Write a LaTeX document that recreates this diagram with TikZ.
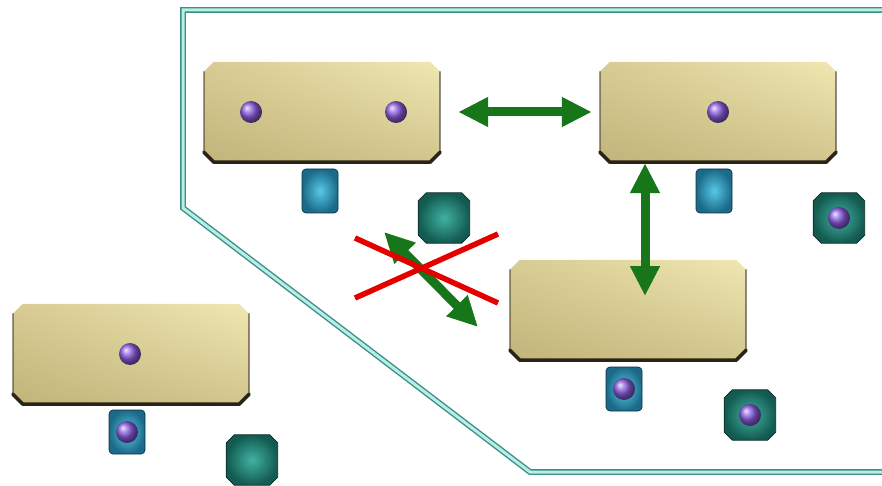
\documentclass[tikz,border=0pt]{standalone}
\usepackage{tikz}
\usetikzlibrary{arrows.meta, positioning, calc, fadings}

\definecolor{slableft}{HTML}{D8CC94}
\definecolor{slabmid}{HTML}{F5EDBC}
\definecolor{slabright}{HTML}{F0E7B2}
\definecolor{slabdark}{HTML}{9A8A4C}
\definecolor{slabedge}{HTML}{2A2416}
\definecolor{cubein}{HTML}{58C8E6}
\definecolor{cubeout}{HTML}{1A6A88}
\definecolor{cubeedge}{HTML}{0C3440}
\definecolor{octin}{HTML}{40B2A2}
\definecolor{octout}{HTML}{135A50}
\definecolor{octedge}{HTML}{082A24}
\definecolor{atomcol}{HTML}{8C5EE2}
\definecolor{linkgreen}{HTML}{17751A}
\definecolor{fenceout}{HTML}{3F8C88}
\definecolor{fencein}{HTML}{B6EFE6}

% beveled outline around a named node: node, chamfer, path options
\newcommand{\bevel}[3]{%
  \path[#3] ([xshift=#2]#1.north west) -- ([xshift=-#2]#1.north east) -- ([yshift=-#2]#1.north east)
    -- ([yshift=#2]#1.south east) -- ([xshift=-#2]#1.south east) -- ([xshift=#2]#1.south west)
    -- ([yshift=#2]#1.south west) -- ([yshift=-#2]#1.north west) -- cycle;}

\begin{document}
\begin{tikzpicture}[
    x=1pt, y=-1pt,
    slab/.style={rectangle, minimum width=236pt, minimum height=100pt, inner sep=0pt},
    octo/.style={rectangle, minimum width=51pt, minimum height=50pt, inner sep=0pt},
    cube/.style={draw=cubeedge, line width=0.7pt, rounded corners=4pt, minimum width=36pt, minimum height=44pt, inner sep=0pt, inner color=cubein, outer color=cubeout},
    atom/.style={circle, minimum size=22pt, inner sep=0pt, ball color=atomcol},
    link/.style={draw=linkgreen, line width=9pt, {Triangle[length=30pt, width=28pt]}-{Triangle[length=30pt, width=28pt]}},
    veto/.style={draw=red!90!black, line width=5.5pt},
    rim/.style={draw=slabedge, line join=round, line cap=round}
]
    \useasboundingbox (0,0) rectangle (882,486);

    % Fence around the group
    \draw[fenceout, line width=1.4pt, double=fencein, double distance=3pt] (884,10) -- (183,10) -- (183,208) -- (530,472) -- (884,472);

    % Slabs
    \node[slab] (slabA) at (322,112) {};
    \node[slab] (slabB) at (718,112) {};
    \node[slab] (slabC) at (628,310) {};
    \node[slab] (slabD) at (131,354) {};
    \foreach \s in {slabA,slabB,slabC,slabD} {
        \bevel{\s}{10pt}{left color=slableft, middle color=slabmid, right color=slabright}
        \bevel{\s}{10pt}{fill=slabdark, fill opacity=0.35, path fading=north}
        \draw[rim, line width=2pt, draw opacity=0.45] ([yshift=-10pt]\s.north west) -- ([yshift=10pt]\s.south west);
        \draw[rim, line width=3.5pt] ([yshift=10pt]\s.south west) -- ([xshift=10pt]\s.south west)
            -- ([xshift=-10pt]\s.south east) -- ([yshift=10pt]\s.south east);
        \draw[rim, line width=1.5pt, draw opacity=0.5] ([yshift=10pt]\s.south east) -- ([yshift=-10pt]\s.north east);
    }

    % Atoms on slabs
    \node[atom] (atomA1) at (251,112) {};
    \node[atom] (atomA2) at (396,112) {};
    \node[atom] (atomB) at (718,112) {};
    \node[atom] (atomD) at (130,354) {};

    % Small cubes
    \node[cube] (cubeA) at (320,191) {};
    \node[cube] (cubeB) at (714,191) {};
    \node[cube] (cubeC) at (624,389) {};
    \node[atom] (atomC) at (624,389) {};
    \node[cube] (cubeD) at (127,432) {};
    \node[atom] (atomCD) at (127,432) {};

    % Octagons
    \node[octo] (octA) at (444,218) {};
    \node[octo] (octB) at (839,218) {};
    \node[octo] (octC) at (750,415) {};
    \node[octo] (octD) at (252,460) {};
    \foreach \o in {octA,octB,octC,octD} {
        \bevel{\o}{8pt}{draw=octedge, line width=0.7pt, inner color=octin, outer color=octout}
    }
    \node[atom] (atomOB) at (839,218) {};
    \node[atom] (atomOC) at (750,415) {};

    % Links
    \coordinate (linkCend) at (645,296);
    \coordinate (diagS) at (384,232);
    \coordinate (diagE) at (478,327);
    \draw[link] ([xshift=18pt]slabA.east) -- ([xshift=-8pt]slabB.west);
    \draw[link] ([yshift=-1pt]slabB.south -| linkCend) -- (linkCend);
    \draw[link] (diagS) -- (diagE);

    % Crossed out
    \coordinate (vetoA) at (355,238);
    \coordinate (vetoB) at (498,303);
    \coordinate (vetoC) at (355,298);
    \coordinate (vetoD) at (498,234);
    \draw[veto] (vetoA) -- (vetoB);
    \draw[veto] (vetoC) -- (vetoD);
\end{tikzpicture}
\end{document}
